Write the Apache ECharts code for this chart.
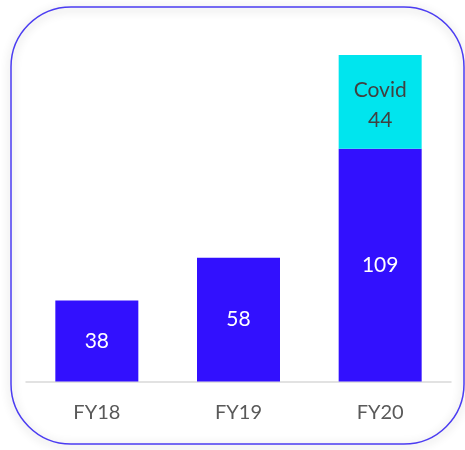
<!DOCTYPE html>
<html>
<head>
<meta charset="utf-8">
<script src="https://cdn.jsdelivr.net/npm/echarts@6/dist/echarts.min.js"></script>
<style>
  html, body { margin: 0; padding: 0; background: #fff; }
  #chart { width: 465px; height: 450px; }
</style>
</head>
<body>
<div id="chart"></div>
<script>
  const categories = ['FY18', 'FY19', 'FY20'];
  const baseValues = [38, 58, 109];
  const covidValues = ['-', '-', 44];

  const chart = echarts.init(document.getElementById('chart'));

  chart.setOption({
    backgroundColor: '#ffffff',
    animation: false,
    textStyle: { fontFamily: 'Lato' },
    // rounded frame round the chart
    graphic: [{
      type: 'rect',
      shape: { x: 11, y: 7, width: 453, height: 437, r: 60 },
      style: {
        fill: null,
        stroke: '#4b3cf2',
        lineWidth: 1.5,
        shadowBlur: 10,
        shadowOffsetY: 2,
        shadowColor: 'rgba(0,0,0,0.3)',
      },
      silent: true,
    }],
    grid: {
      left: 26,
      right: 14,
      top: 40,
      bottom: 68.5,
    },
    xAxis: {
      type: 'category',
      data: categories,
      axisTick: { show: false },
      axisLine: {
        lineStyle: { color: '#d9d9d9', width: 1.5 },
      },
      axisLabel: {
        color: '#595959',
        fontSize: 20,
        margin: 21,
      },
    },
    yAxis: {
      type: 'value',
      min: 0,
      max: 160,
      show: false,
      splitLine: { show: false },
    },
    series: [
      {
        name: 'base',
        type: 'bar',
        stack: 'total',
        barWidth: 83,
        data: baseValues,
        itemStyle: { color: '#3210fe' },
        label: {
          show: true,
          position: 'inside',
          color: '#ffffff',
          fontSize: 21,
        },
      },
      {
        name: 'Covid',
        type: 'bar',
        stack: 'total',
        barWidth: 83,
        data: covidValues,
        itemStyle: { color: '#00e5ee' },
        label: {
          show: true,
          position: 'inside',
          formatter: 'Covid\n{c}',
          color: '#404040',
          fontSize: 21,
          lineHeight: 30,
          offset: [0, 3],
        },
      },
    ],
  });
</script>
</body>
</html>
